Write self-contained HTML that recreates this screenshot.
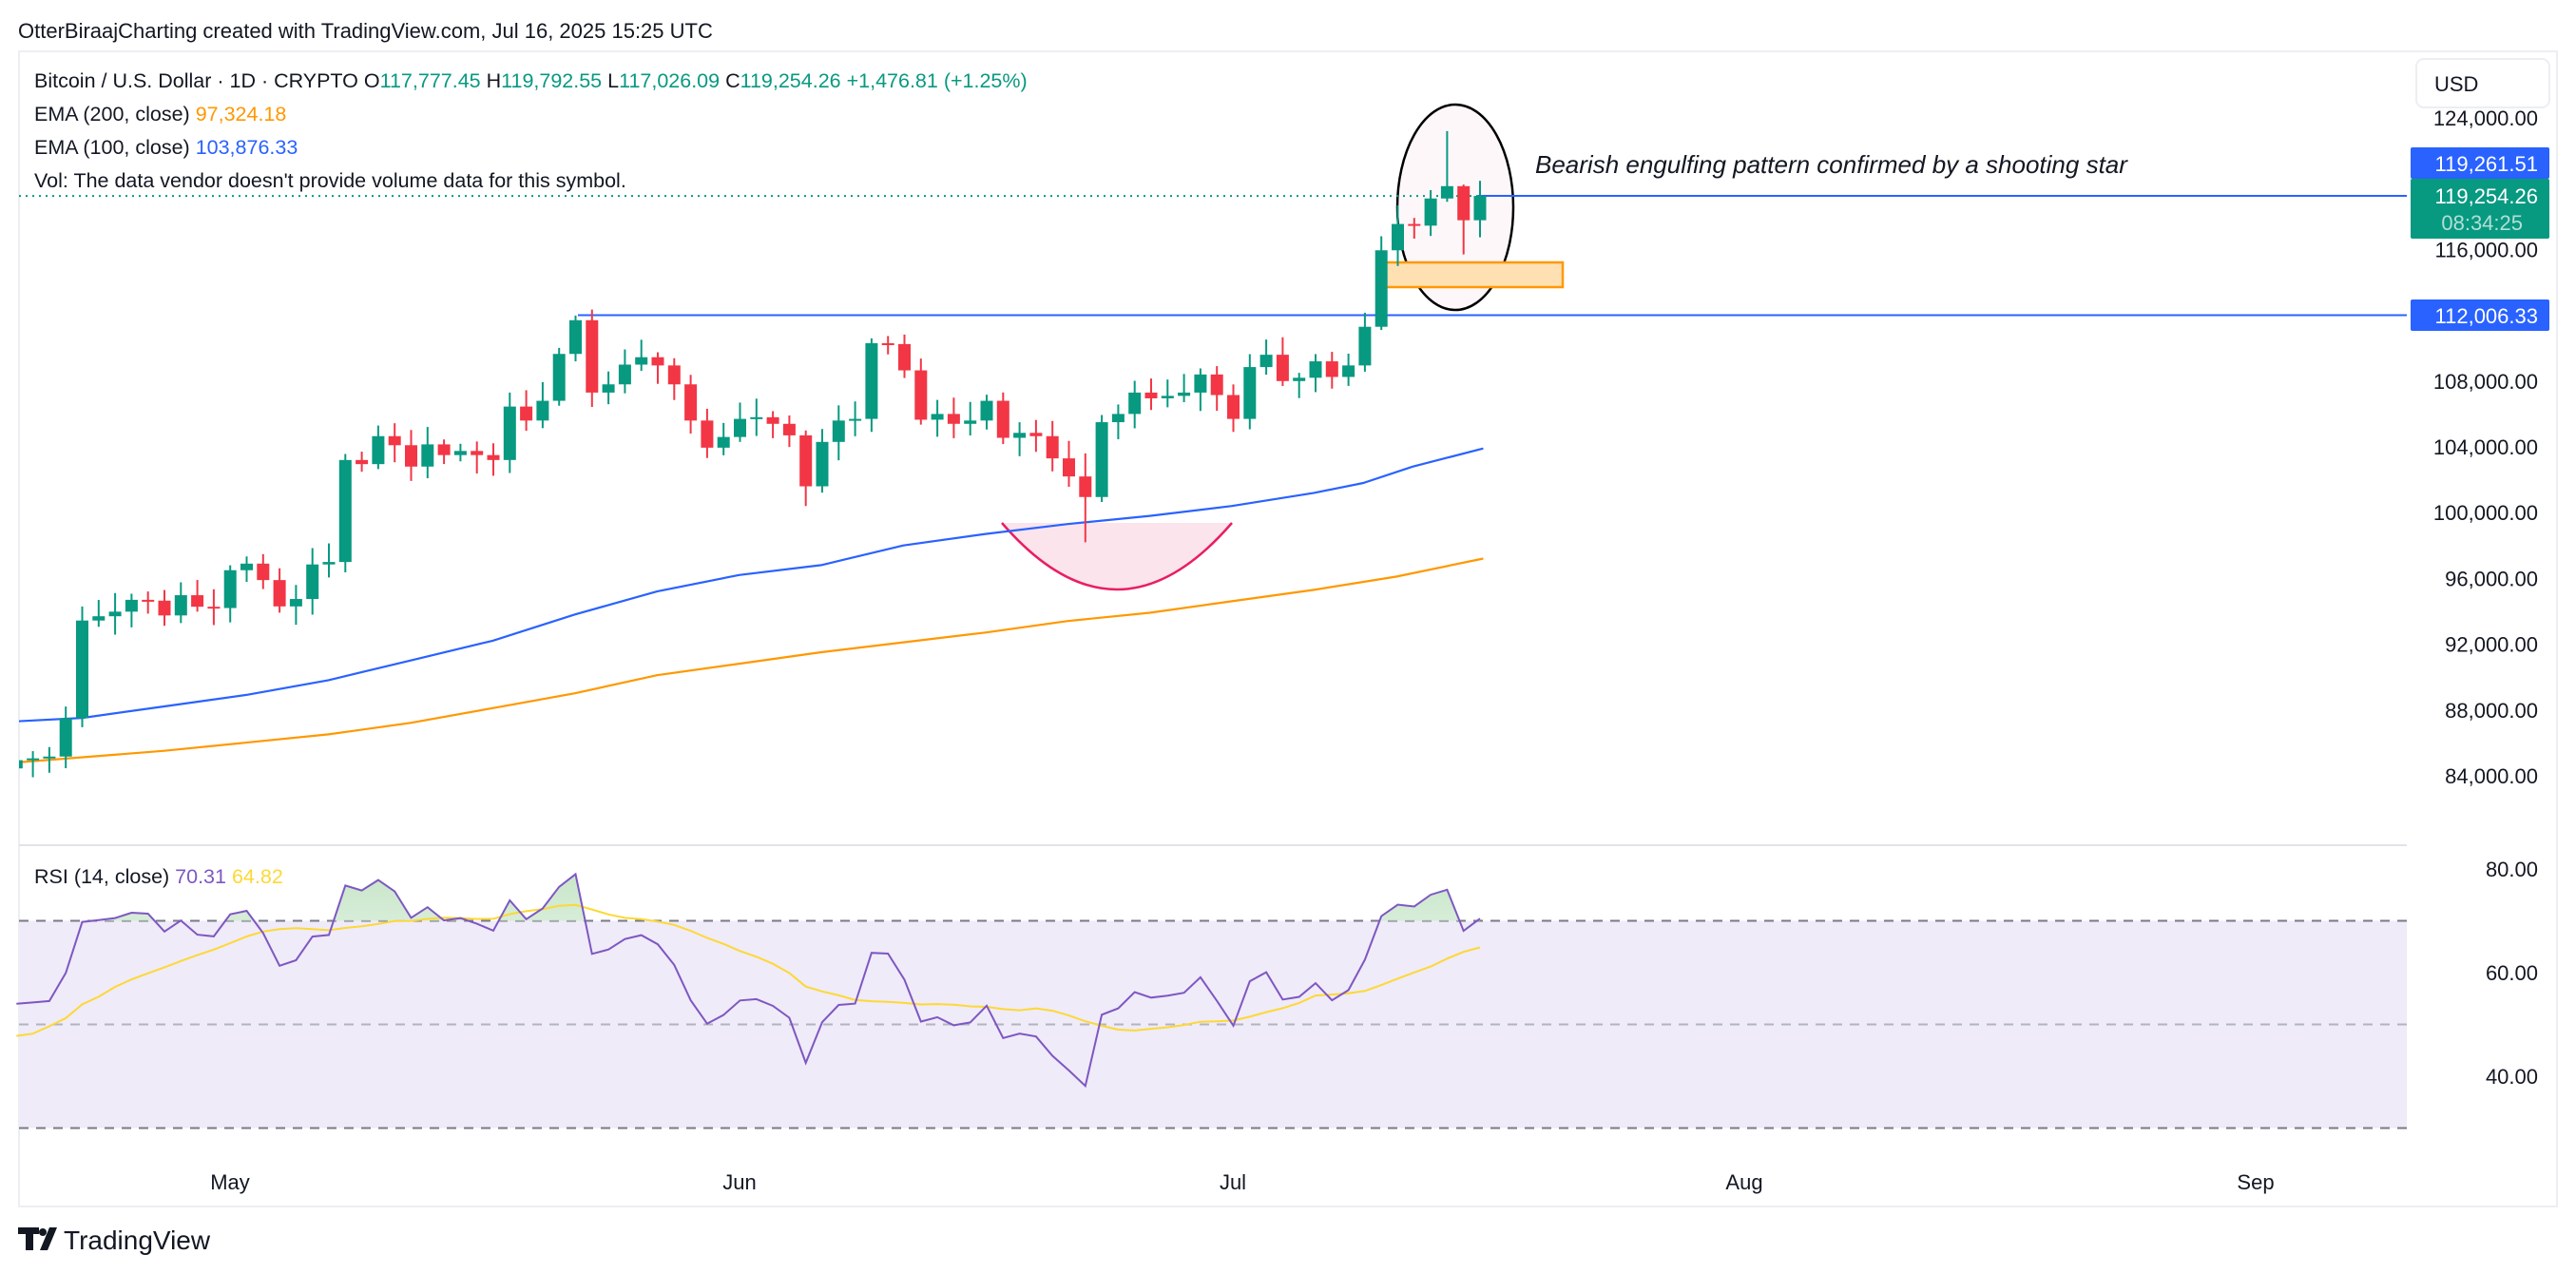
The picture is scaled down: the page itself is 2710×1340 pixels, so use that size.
<!DOCTYPE html>
<html><head><meta charset="utf-8"><style>
html,body{margin:0;padding:0;background:#fff;width:2710px;height:1340px;overflow:hidden}
svg{display:block;font-family:"Liberation Sans",sans-serif}
</style></head><body>
<svg id="s" width="2710" height="1340" viewBox="0 0 2710 1340" xmlns="http://www.w3.org/2000/svg">
<defs>
<clipPath id="cp"><rect x="20" y="55" width="2512" height="833"/></clipPath>
<clipPath id="cr"><rect x="20" y="890" width="2512" height="78.5"/></clipPath>
<linearGradient id="gg" x1="0" y1="0" x2="0" y2="1"><stop offset="0" stop-color="#c8e6c9"/><stop offset="1" stop-color="#e8f5e9" stop-opacity="0.3"/></linearGradient>
</defs>
<rect x="0" y="0" width="2710" height="1340" fill="#fff"/>
<text x="19" y="40" font-size="22" fill="#131722">OtterBiraajCharting created with TradingView.com, Jul 16, 2025 15:25 UTC</text>
<rect x="20" y="54" width="2670" height="1215" fill="none" stroke="#eceef2" stroke-width="2"/>
<line x1="20" y1="889" x2="2532" y2="889" stroke="#e0e3eb" stroke-width="2"/>
<!-- RSI band -->
<rect x="20" y="968.5" width="2512" height="218" fill="#efebf8"/>
<g stroke="#787b86" stroke-width="2" stroke-dasharray="10,8">
<line x1="20" y1="968.5" x2="2532" y2="968.5"/>
<line x1="20" y1="1186.5" x2="2532" y2="1186.5"/>
</g>
<line x1="20" y1="1077.5" x2="2532" y2="1077.5" stroke="#b2b5be" stroke-width="2" stroke-dasharray="10,8"/>
<!-- annotations (behind candles) -->
<path d="M1054,550 Q1175,690 1296,550" fill="#fce4ec" stroke="#e91e63" stroke-width="2.5"/>
<ellipse cx="1531" cy="218" rx="61" ry="108" fill="#fdf7fa" stroke="#000" stroke-width="2.5"/>
<rect x="1458" y="276" width="186" height="26" fill="#ffe0b2" stroke="#ff9800" stroke-width="2.5"/>
<g id="main" clip-path="url(#cp)"></g>
<g id="rsi"></g>
<text x="1615" y="182" font-size="26" font-style="italic" fill="#131722">Bearish engulfing pattern confirmed by a shooting star</text>
<!-- legend -->
<text x="36" y="92" font-size="21.5" fill="#131722">Bitcoin / U.S. Dollar · 1D · CRYPTO  O<tspan fill="#089981">117,777.45</tspan>  H<tspan fill="#089981">119,792.55</tspan>  L<tspan fill="#089981">117,026.09</tspan>  C<tspan fill="#089981">119,254.26</tspan>  <tspan fill="#089981">+1,476.81 (+1.25%)</tspan></text>
<text x="36" y="127" font-size="21.5" fill="#131722">EMA (200, close)  <tspan fill="#ff9800">97,324.18</tspan></text>
<text x="36" y="162" font-size="21.5" fill="#131722">EMA (100, close)  <tspan fill="#2962ff">103,876.33</tspan></text>
<text x="36" y="197" font-size="21.5" fill="#131722">Vol: The data vendor doesn't provide volume data for this symbol.</text>
<text x="36" y="929" font-size="21.5" fill="#131722">RSI (14, close)  <tspan fill="#7e57c2">70.31</tspan>  <tspan fill="#fdd835">64.82</tspan></text>
<!-- price axis -->
<rect x="2542" y="62" width="140" height="51" rx="8" fill="#fff" stroke="#eceef2" stroke-width="2"/>
<text x="2561" y="96" font-size="22" fill="#131722">USD</text>
<g id="pax" font-size="22" fill="#131722" text-anchor="end"></g>
<rect x="2536" y="155" width="146" height="33" rx="2" fill="#2962ff"/>
<text x="2670" y="180" font-size="22" fill="#fff" text-anchor="end">119,261.51</text>
<rect x="2536" y="188" width="146" height="63" rx="2" fill="#089981"/>
<text x="2670" y="214" font-size="22" fill="#fff" text-anchor="end">119,254.26</text>
<text x="2654" y="242" font-size="22" fill="#b2dfd6" text-anchor="end">08:34:25</text>
<rect x="2536" y="315" width="146" height="33" rx="2" fill="#2962ff"/>
<text x="2670" y="340" font-size="22" fill="#fff" text-anchor="end">112,006.33</text>
<g font-size="22" fill="#131722" text-anchor="end">
<text x="2670" y="922">80.00</text><text x="2670" y="1031">60.00</text><text x="2670" y="1140">40.00</text>
</g>
<g font-size="22" fill="#131722" text-anchor="middle">
<text x="242" y="1251">May</text><text x="778" y="1251">Jun</text><text x="1297" y="1251">Jul</text><text x="1835" y="1251">Aug</text><text x="2373" y="1251">Sep</text>
</g>
<!-- logo -->
<g transform="translate(19,1291)">
<rect x="0" y="0" width="22" height="7" fill="#131722"/><rect x="8" y="0" width="8" height="24" fill="#131722"/>
<circle cx="26" cy="5" r="4" fill="#131722"/><polygon points="33,0 41,0 31,24 23,24" fill="#131722"/>
</g>
<text x="67" y="1314" font-size="28" fill="#131722">TradingView</text>
</svg>
<script>
(function(){
var NS="http://www.w3.org/2000/svg";
function el(p,t,a){var e=document.createElementNS(NS,t);for(var k in a)e.setAttribute(k,a[k]);p.appendChild(e);return e;}
var C=[84950,85060,85170,87500,93440,93700,93980,94700,94650,93750,94980,94280,94200,
96500,96900,95900,94300,94750,96850,97000,103200,102950,104650,104100,102800,104150,103500,103750,103500,103200,106450,105600,106800,109650,111700,107300,107800,109000,109450,108950,107800,105600,103950,104600,
105700,105800,105400,104700,101600,104300,105600,105700,110300,110250,108650,105650,106000,105400,105600,106800,104550,104850,104650,103300,102200,100950,105500,106000,107300,106950,107100,107300,108400,107150,
105700,108850,109600,108000,108200,109200,108250,108950,111300,115950,117550,117450,119100,119850,117777,119254];
var W=[84200,84100,83800,86100,87500,87400,86900,87200,84350,82600,82350,82550,85150,82500,83100,83800,83500,78200,79200,76300,82600,79600,83400,85300,83800,84500,83700,84000,84900];
var n=C.length;
function X(i){return 1557-(n-1-i)*17.3;}
function Y(p){return 124+(124000-p)/4000*69.2;}
var main=document.getElementById('main');
el(main,'line',{x1:20,y1:Y(119254),x2:1555,y2:Y(119254),stroke:'#089981','stroke-width':2,'stroke-dasharray':'2,5'});
el(main,'line',{x1:1555,y1:Y(119261),x2:2532,y2:Y(119261),stroke:'#2962ff','stroke-width':2});
el(main,'line',{x1:608,y1:331.5,x2:2532,y2:331.5,stroke:'#2962ff','stroke-width':2});
function pl(pts,col){var d=pts.map(function(p,i){return (i?'L':'M')+(p[0]*1.728).toFixed(1)+','+(p[1]*1.728).toFixed(1);}).join('');
el(main,'path',{d:d,fill:'none',stroke:col,'stroke-width':2.2});}
pl([[11,439],[50,437],[100,430],[150,423],[200,414],[250,402],[300,390],[350,374],[400,360],[450,350],[500,344],[550,332],[600,325],[650,319],[700,314],[750,308],[800,300],[830,294],[860,284],[903,273]],'#2962ff');
pl([[11,464],[100,457],[200,447],[250,440],[300,431],[350,422],[400,411],[450,404],[500,397],[550,391],[600,385],[650,378],[700,373],[750,366],[800,359],[850,351],[903,340]],'#ff9800');
var ov={};ov[n-3]=[123200,118900];ov[n-2]=[119950,115700];
ov[65]=[103600,98200];ov[34]=[111980,109200];ov[48]=[105000,100400];ov[83]=[116800,111100];
var prev=84450;
for(var i=0;i<n;i++){
 var o=(i==n-1)?117777:prev,c=C[i];prev=C[i];
 if(i==n-2)o=119850;
 var r=((i*7919)%13)/13;
 var h=Math.max(o,c)+300+r*900,l=Math.min(o,c)-300-((i*104729)%11)/11*900;
 if(ov[i]){h=ov[i][0];l=ov[i][1];}
 var col=c>=o?'#089981':'#f23645',x=X(i);
 el(main,'line',{x1:x,y1:Y(h),x2:x,y2:Y(l),stroke:col,'stroke-width':2});
 var t=Y(Math.max(o,c)),b=Y(Math.min(o,c));if(b-t<2)b=t+2;
 el(main,'rect',{x:x-6.5,y:t,width:13,height:b-t,fill:col});
}
var pax=document.getElementById('pax');
[124000,116000,108000,104000,100000,96000,92000,88000,84000].forEach(function(p){
 var t=el(pax,'text',{x:2670,y:Y(p)+8});t.textContent=p.toLocaleString('en-US')+'.00';});
var all=W.concat(C),g=0,ls=0;
for(var k=1;k<=14;k++){var d=all[k]-all[k-1];if(d>0)g+=d;else ls-=d;}
g/=14;ls/=14;var R=[];R[14]=100-100/(1+g/ls);
for(var k=15;k<all.length;k++){var d=all[k]-all[k-1];g=(g*13+Math.max(d,0))/14;ls=(ls*13+Math.max(-d,0))/14;R[k]=100-100/(1+g/ls);}
var off=W.length,rs=[],ma=[];
for(var i=0;i<n;i++){rs.push(R[off+i]);var s=0;for(var j=0;j<14;j++)s+=R[off+i-j];ma.push(s/14);}
function RY(v){return 914+(80-v)*5.45;}
var rg=document.getElementById('rsi');
var d='',dm='';for(var i=0;i<n;i++){d+=(i?'L':'M')+X(i).toFixed(1)+','+RY(rs[i]).toFixed(1);dm+=(i?'L':'M')+X(i).toFixed(1)+','+RY(ma[i]).toFixed(1);}
var cl=el(rg,'g',{'clip-path':'url(#cr)'});
el(cl,'path',{d:d+'L'+X(n-1)+',968.5L'+X(0)+',968.5Z',fill:'url(#gg)'});
el(rg,'path',{d:dm,fill:'none',stroke:'#fdd835','stroke-width':2});
el(rg,'path',{d:d,fill:'none',stroke:'#7e57c2','stroke-width':2});
})();
</script>
</body></html>
